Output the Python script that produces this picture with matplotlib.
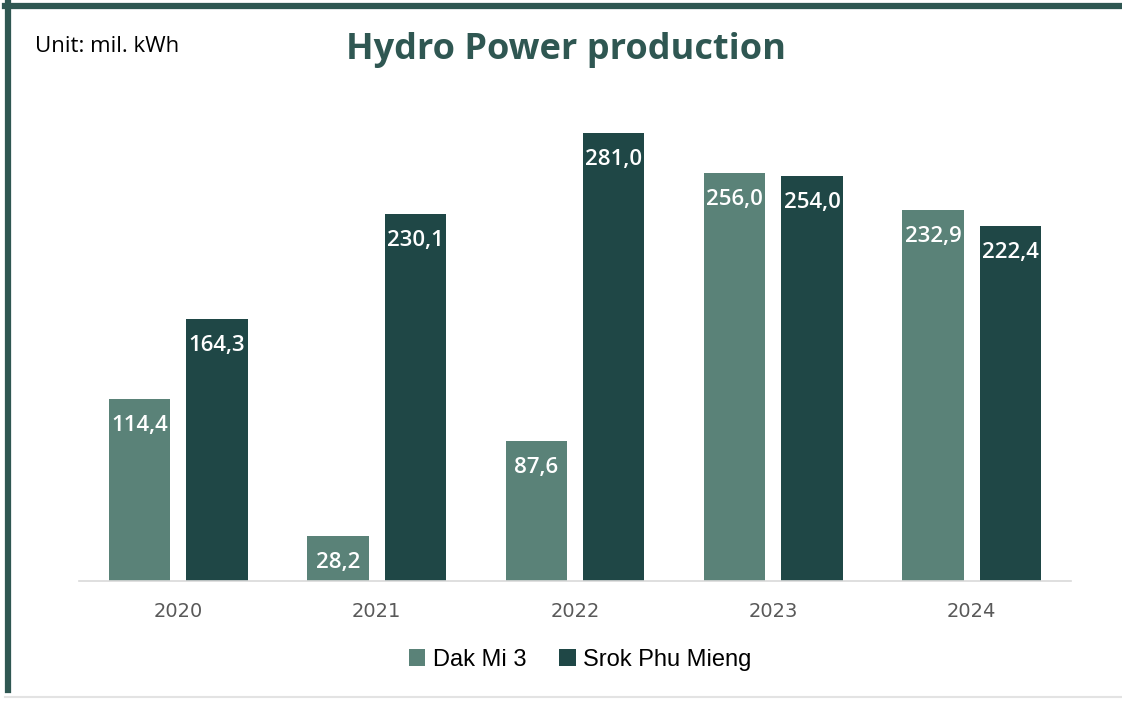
import matplotlib

matplotlib.use("Agg")
import matplotlib.pyplot as plt
import numpy as np
from matplotlib.lines import Line2D

years = ["2020", "2021", "2022", "2023", "2024"]
dak_mi_3 = [114.4, 28.2, 87.6, 256.0, 232.9]
srok_phu_mieng = [164.3, 230.1, 281.0, 254.0, 222.4]

C_LIGHT = "#5a8278"
C_DARK = "#1f4746"
C_FRAME = "#2f5752"

fig = plt.figure(figsize=(11.22, 7.01), dpi=100)
W, H = 1122, 701
ax = fig.add_axes([79 / W, 1 - 581 / H, (1071 - 79) / W, (581 - 102) / H])

x = np.arange(len(years))
bw = 0.31
off = 0.195
b1 = ax.bar(x - off, dak_mi_3, bw, color=C_LIGHT, label="Dak Mi 3")
b2 = ax.bar(x + off, srok_phu_mieng, bw, color=C_DARK, label="Srok Phu Mieng")

for bars, vals in ((b1, dak_mi_3), (b2, srok_phu_mieng)):
    for r, v in zip(bars, vals):
        ax.annotate(f"{v:.1f}".replace(".", ","),
                    (r.get_x() + r.get_width() / 2, v),
                    xytext=(0, -19), textcoords="offset points",
                    ha="center", va="center", color="white",
                    fontsize=16, fontweight="semibold", family="Open Sans")

ax.set_xlim(-0.5, 4.5)
ax.set_ylim(0, 300.5)
ax.set_xticks(x, years)
ax.tick_params(axis="x", length=0, pad=15, labelsize=14, labelcolor="#595959")
ax.set_yticks([])
for s in ("top", "right", "left"):
    ax.spines[s].set_visible(False)
ax.spines["bottom"].set_color("#d9d9d9")
ax.spines["bottom"].set_linewidth(1.2)

fig.legend(handles=[b1, b2], loc="center", bbox_to_anchor=(580 / W, 1 - 660 / H),
           ncol=2, frameon=False, handlelength=0.7, handleheight=0.7,
           handletextpad=0.3, columnspacing=1.4,
           prop={"family": "Liberation Sans", "size": 17})

fig.text(566 / W, 1 - 50 / H, "Hydro Power production", ha="center", va="center",
         fontsize=26, fontweight="bold", color=C_FRAME, family="Open Sans")
fig.text(35 / W, 1 - 47 / H, "Unit: mil. kWh", ha="left", va="center",
         fontsize=16, color="black", family="Open Sans")

# frame lines
fig.add_artist(Line2D([5 / W, 1], [1 - 5.5 / H, 1 - 5.5 / H], color=C_FRAME, lw=4.5,
                      transform=fig.transFigure))
fig.add_artist(Line2D([7.5 / W, 7.5 / W], [1 - 3 / H, 1 - 690 / H], color=C_FRAME, lw=4.5,
                      transform=fig.transFigure))
fig.add_artist(Line2D([5 / W, 1], [1 - 697 / H, 1 - 697 / H], color="#e3e3e3", lw=1.5,
                      transform=fig.transFigure))

fig.savefig("out.png", dpi=100)
